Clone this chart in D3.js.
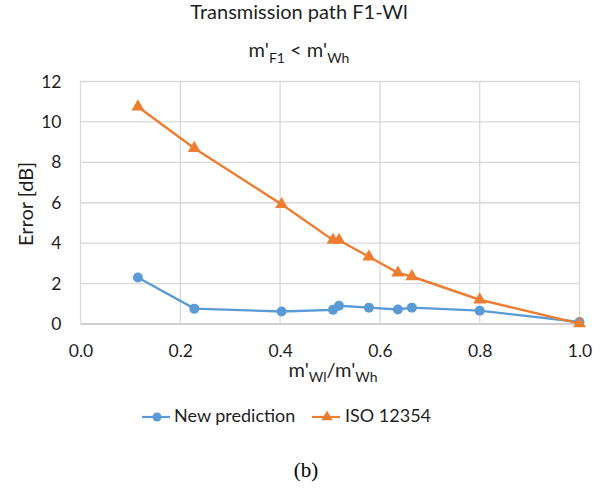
<!DOCTYPE html>
<html><head><meta charset="utf-8">
<script src="https://cdn.jsdelivr.net/npm/d3@7"></script>
<style>body{margin:0;background:#fff}svg{display:block}</style>
</head><body>
<script>
const xValues = [0.115, 0.228, 0.403, 0.506, 0.518, 0.578, 0.636, 0.664, 0.800, 1.000];
const newPrediction = [2.30, 0.76, 0.62, 0.70, 0.90, 0.81, 0.72, 0.81, 0.66, 0.10];
const iso12354 = [10.75, 8.70, 5.92, 4.15, 4.15, 3.33, 2.53, 2.35, 1.20, 0.02];
const xTicks = [0.0, 0.2, 0.4, 0.6, 0.8, 1.0];
const yTicks = [0, 2, 4, 6, 8, 10, 12];
const seriesNames = ["New prediction", "ISO 12354"];
const colors = ["#5B9BD5", "#ED7D31"];

const W = 606, H = 492;
const svg = d3.select("body").append("svg").attr("width", W).attr("height", H);
const font = "Lato, 'Open Sans', sans-serif";
const ink = "#1f1f1f";
const x = d3.scaleLinear().domain([0, 1]).range([80.5, 579.5]);
const y = d3.scaleLinear().domain([0, 12]).range([324, 81.5]);

// gridlines
svg.append("g").selectAll("line.h").data(yTicks).join("line")
  .attr("x1", x(0)).attr("x2", x(1)).attr("y1", d => y(d)).attr("y2", d => y(d))
  .attr("stroke", d => d === 0 ? "#bfbfbf" : "#d9d9d9").attr("stroke-width", 1.3);
svg.append("g").selectAll("line.v").data(xTicks).join("line")
  .attr("x1", d => x(d)).attr("x2", d => x(d)).attr("y1", y(0)).attr("y2", y(12))
  .attr("stroke", "#d9d9d9").attr("stroke-width", 1.3);

// axes labels
const xAxis = d3.axisBottom(x).tickValues(xTicks).tickFormat(d3.format(".1f")).tickSize(0).tickPadding(21);
const gx = svg.append("g").attr("transform", `translate(0,${y(0)})`).call(xAxis);
gx.select(".domain").remove();
gx.selectAll("text").attr("font-family", font).attr("font-size", 17.5).attr("fill", ink);
const yAxis = d3.axisLeft(y).tickValues(yTicks).tickFormat(d3.format("d")).tickSize(0).tickPadding(19);
const gy = svg.append("g").attr("transform", `translate(${x(0)},0)`).call(yAxis);
gy.select(".domain").remove();
gy.selectAll("text").attr("font-family", font).attr("font-size", 17.5).attr("fill", ink);

// lines
const series = [newPrediction, iso12354];
series.forEach((vals, i) => {
  const pts = xValues.map((xv, j) => [xv, vals[j]]);
  svg.append("path").datum(pts)
    .attr("d", d3.line().x(d => x(d[0])).y(d => y(d[1])))
    .attr("fill", "none").attr("stroke", colors[i]).attr("stroke-width", 2.4);
  if (i === 0) {
    svg.append("g").selectAll("circle").data(pts).join("circle")
      .attr("cx", d => x(d[0])).attr("cy", d => y(d[1])).attr("r", 5).attr("fill", colors[i]);
  } else {
    svg.append("g").selectAll("path").data(pts).join("path")
      .attr("d", d3.symbol(d3.symbolTriangle, 72))
      .attr("transform", d => `translate(${x(d[0])},${y(d[1])})`).attr("fill", colors[i]);
  }
});

// titles
svg.append("text").attr("x", 299).attr("y", 19).attr("text-anchor", "middle")
  .attr("font-family", font).attr("font-size", 20).attr("fill", ink).text("Transmission path F1-Wl");
const t2 = svg.append("text").attr("x", 299).attr("y", 57).attr("text-anchor", "middle")
  .attr("font-family", font).attr("font-size", 20).attr("fill", ink);
t2.append("tspan").text("m'");
t2.append("tspan").attr("font-size", 14).attr("dy", 6).text("F1");
t2.append("tspan").attr("dy", -6).text(" < m'");
t2.append("tspan").attr("font-size", 14).attr("dy", 6).text("Wh");

svg.append("text").attr("transform", "translate(33,204) rotate(-90)").attr("text-anchor", "middle")
  .attr("font-family", font).attr("font-size", 20).attr("fill", ink).text("Error [dB]");

const xt = svg.append("text").attr("x", 333).attr("y", 377).attr("text-anchor", "middle")
  .attr("font-family", font).attr("font-size", 20).attr("fill", ink);
xt.append("tspan").text("m'");
xt.append("tspan").attr("font-size", 14).attr("dy", 5).text("Wl");
xt.append("tspan").attr("dy", -5).text("/m'");
xt.append("tspan").attr("font-size", 14).attr("dy", 5).text("Wh");

// legend
const legendY = 417;
const legendX = [142, 312];
const legendTextX = [174, 345];
seriesNames.forEach((name, i) => {
  const g = svg.append("g");
  g.append("line").attr("x1", legendX[i]).attr("x2", legendX[i] + 28).attr("y1", legendY).attr("y2", legendY)
    .attr("stroke", colors[i]).attr("stroke-width", 2.2);
  if (i === 0) g.append("circle").attr("cx", legendX[i] + 15).attr("cy", legendY).attr("r", 4.5).attr("fill", colors[i]);
  else g.append("path").attr("d", d3.symbol(d3.symbolTriangle, 55)).attr("transform", `translate(${legendX[i] + 15},${legendY})`).attr("fill", colors[i]);
  g.append("text").attr("x", legendTextX[i]).attr("y", 422).attr("font-family", font).attr("font-size", 18)
    .attr("fill", ink).text(name);
});

svg.append("text").attr("x", 306).attr("y", 477).attr("text-anchor", "middle")
  .attr("font-family", "'Liberation Serif', serif").attr("font-size", 21).attr("fill", "#000").text("(b)");
</script>
</body></html>
